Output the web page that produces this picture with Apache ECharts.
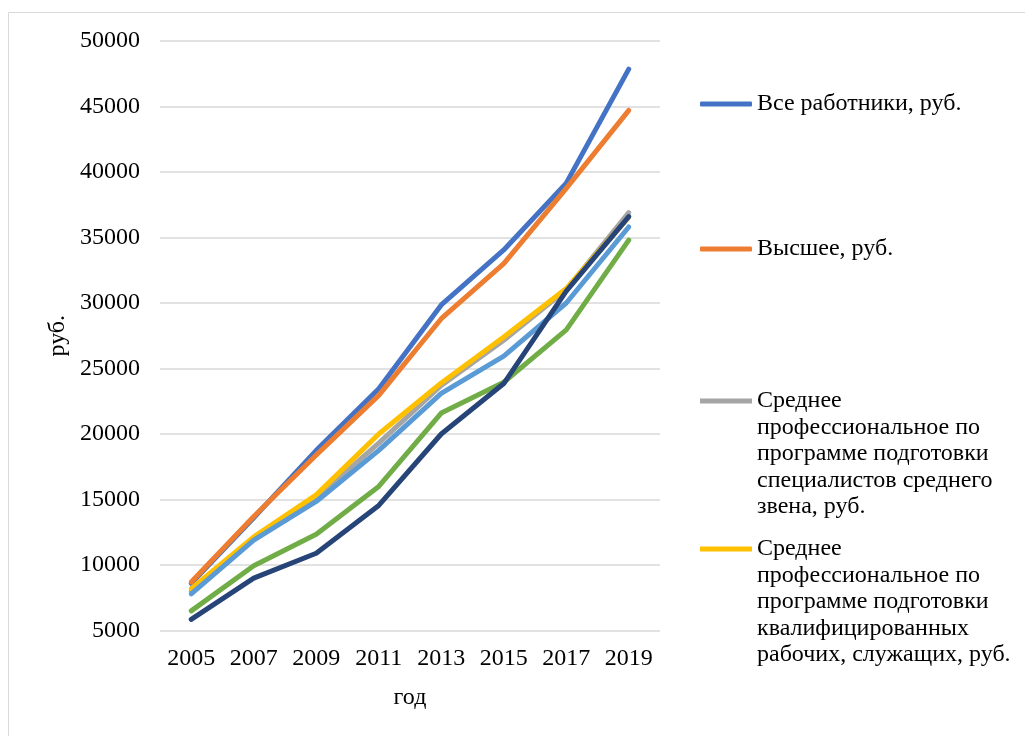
<!DOCTYPE html>
<html>
<head>
<meta charset="utf-8">
<script src="https://cdn.jsdelivr.net/npm/echarts@6/dist/echarts.min.js"></script>
<style>
  html, body { margin: 0; padding: 0; background: #fff; }
  #chart { width: 1025px; height: 736px; }
</style>
</head>
<body>
<div id="chart"></div>
<script>
// годы
var years = ['2005', '2007', '2009', '2011', '2013', '2015', '2017', '2019'];

// значения по уровням образования, руб.
var allWorkers   = [8600, 13600, 18750, 23450, 29850, 34050, 39150, 47850];
var higher       = [8700, 13700, 18400, 22950, 28800, 33000, 38750, 44700];
var midSpecial   = [8000, 12000, 15100, 19300, 23700, 27150, 31000, 36900];
var midWorkers   = [8200, 12150, 15350, 20000, 23900, 27400, 31100, 36550];
var generalMid   = [7800, 11900, 14850, 18750, 23100, 25950, 30000, 35800];
var generalBasic = [6500, 9950, 12350, 16000, 21600, 23950, 27950, 34800];
var noBasic      = [5850, 9000, 10900, 14550, 20000, 23850, 30900, 36600];

var names = [
  'Все работники, руб.',
  'Высшее, руб.',
  'Среднее профессиональное по программе подготовки специалистов среднего звена, руб.',
  'Среднее профессиональное по программе подготовки квалифицированных рабочих, служащих, руб.',
  'Среднее общее, руб.',
  'Основное общее, руб.',
  'Не имеют основного общего, руб.'
];
var values = [allWorkers, higher, midSpecial, midWorkers, generalMid, generalBasic, noBasic];
var colors = ['#4472C4', '#ED7D31', '#A5A5A5', '#FFC000', '#5B9BD5', '#70AD47', '#264478'];

// как переносятся строки в легенде
var legendText = {};
legendText[names[0]] = 'Все работники, руб.';
legendText[names[1]] = 'Высшее, руб.';
legendText[names[2]] = 'Среднее\nпрофессиональное по\nпрограмме подготовки\nспециалистов среднего\nзвена, руб.';
legendText[names[3]] = 'Среднее\nпрофессиональное по\nпрограмме подготовки\nквалифицированных\nрабочих, служащих, руб.';

var font = "'Liberation Serif', 'Times New Roman', serif";
var lh = 26.5;
var myChart = echarts.init(document.getElementById('chart'), null, { renderer: 'canvas' });

// одна легенда на каждую серию, чтобы выставить их как в Excel
function legendItem(i, firstLineY, lines) {
  var h = lines * lh;
  var icon = 'roundRect';
  var ih = 5;
  if (lines > 1) {
    // линия у первой строки, пустой подпуть растягивает рамку значка на весь текст
    var y0 = lh / 2 - 2.5;
    icon = 'path://M0,' + y0 + 'L52,' + y0 + 'L52,' + (y0 + 5) + 'L0,' + (y0 + 5) + 'Z' +
           'M0,0L0,0ZM0,' + h + 'L0,' + h + 'Z';
    ih = h;
  }
  return {
    data: [names[i]],
    orient: 'vertical',
    left: 700,
    top: firstLineY - lh / 2,
    padding: 0,
    icon: icon,
    itemWidth: 52,
    itemHeight: ih,
    itemGap: 0,
    selectedMode: false,
    formatter: function (n) { return legendText[n]; },
    textStyle: {
      fontFamily: font,
      fontSize: 24,
      color: '#000',
      lineHeight: lh
    }
  };
}

var series = [];
for (var i = 0; i < names.length; i++) {
  series.push({
    name: names[i],
    type: 'line',
    data: values[i],
    symbol: 'none',
    color: colors[i],
    lineStyle: { width: 5, color: colors[i], cap: 'round', join: 'round' },
    animation: false
  });
}

var option = {
  backgroundColor: '#fff',
  animation: false,
  graphic: [{
    type: 'rect',
    shape: { x: 8.5, y: 12.5, width: 1030, height: 740 },
    style: { fill: 'none', stroke: '#d9d9d9', lineWidth: 1 }
  }],
  legend: [
    legendItem(0, 104, 1),
    legendItem(1, 249, 1),
    legendItem(2, 401, 5),
    legendItem(3, 549, 5)
  ],
  grid: { left: 160, right: 365, top: 41, bottom: 105.5, containLabel: false },
  xAxis: {
    type: 'category',
    data: years,
    boundaryGap: true,
    name: 'год',
    nameLocation: 'middle',
    nameGap: 55,
    nameTextStyle: { fontFamily: font, fontSize: 24, color: '#000' },
    axisLine: { show: false },
    axisTick: { show: false },
    axisLabel: { fontFamily: font, fontSize: 24, color: '#000', margin: 16 }
  },
  yAxis: {
    type: 'value',
    min: 5000,
    max: 50000,
    interval: 5000,
    name: 'руб.',
    nameLocation: 'middle',
    nameGap: 90,
    nameTextStyle: { fontFamily: font, fontSize: 24, color: '#000' },
    axisLine: { show: false },
    axisTick: { show: false },
    axisLabel: {
      fontFamily: font, fontSize: 24, color: '#000', margin: 20,
      formatter: function (v) { return String(v); }
    },
    splitLine: { lineStyle: { color: '#d9d9d9', width: 1.5 } }
  },
  series: series
};

myChart.setOption(option);
window.addEventListener('resize', function () {
  myChart.resize();
});
</script>
</body>
</html>
